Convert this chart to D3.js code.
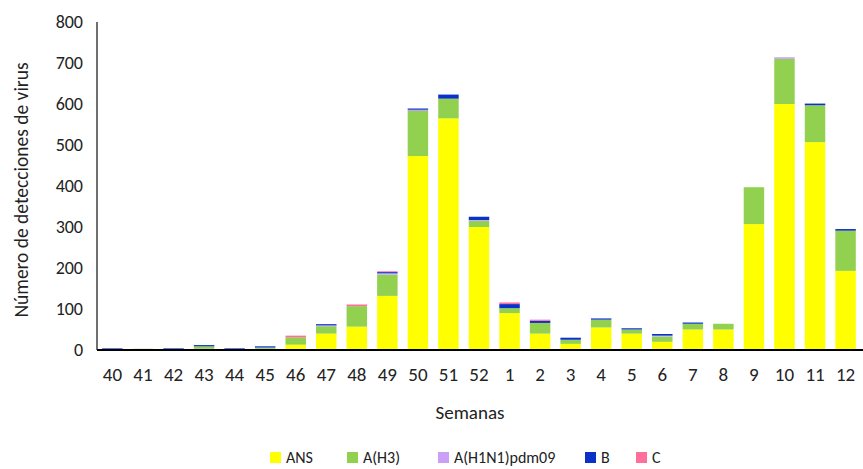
<!DOCTYPE html>
<html><head><meta charset="utf-8">
<script src="https://cdn.jsdelivr.net/npm/d3@7"></script>
<style>body{margin:0;background:#fff;font-family:Calibri,Carlito,Lato,sans-serif}</style>
</head><body><svg id="c" width="863" height="469"></svg>
<script>
const weeks = ["40","41","42","43","44","45","46","47","48","49","50","51","52","1","2","3","4","5","6","7","8","9","10","11","12"];
const ans  = [0,0,0,3,0,3,13,40,57,132,473,565,300,90,40,15,55,40,20,50,50,307,600,507,193];
const h3   = [0,3,0,6,0,3,18,18,50,52,110,48,15,12,26,10,19,10,13,14,14,90,110,90,98];
const h1n1 = [0,0,0,0,0,0,0,2,0,3,3,0,2,0,0,0,0,0,2,0,0,0,4,0,0];
const bvir = [4,0,4,3,4,3,0,3,0,3,3,10,8,10,5,5,3,3,4,3,0,0,0,4,4];
const cvir = [0,0,0,0,0,0,4,0,4,2,0,0,0,4,3,0,0,0,0,0,0,0,0,0,0];
const seriesNames = ["ANS","A(H3)","A(H1N1)pdm09","B","C"];
const colors = ["#ffff00","#92d050","#c9a0f5","#0a32c8","#ff6f9c"];
const yTicks = [0,100,200,300,400,500,600,700,800];

const svg = d3.select("#c");
const m = {l:97, r:2, t:22, b:119};
const W = 863, H = 469;
const x = d3.scaleBand().domain(weeks).range([m.l, W - m.r]).paddingInner(0.33).paddingOuter(0.17);
const y = d3.scaleLinear().domain([0, 800]).range([H - m.b, m.t]);

const rows = weeks.map((w, i) => ({w, s0: ans[i], s1: h3[i], s2: h1n1[i], s3: bvir[i], s4: cvir[i]}));
const stack = d3.stack().keys(["s0","s1","s2","s3","s4"])(rows);

svg.selectAll("g.layer").data(stack).join("g").attr("fill", (d, i) => colors[i])
  .selectAll("rect").data(d => d).join("rect")
  .attr("x", d => x(d.data.w)).attr("width", x.bandwidth())
  .attr("y", d => y(d[1])).attr("height", d => y(d[0]) - y(d[1]));

// axes
svg.append("line").attr("x1", m.l).attr("x2", m.l).attr("y1", y(800)).attr("y2", y(0)).attr("stroke", "#404040").attr("stroke-width", 1.5);
svg.append("line").attr("x1", m.l).attr("x2", W).attr("y1", y(0)).attr("y2", y(0)).attr("stroke", "#000").attr("stroke-width", 2);
svg.selectAll("text.yt").data(yTicks).join("text")
  .attr("x", m.l - 14).attr("y", d => y(d) + 6).attr("text-anchor", "end")
  .attr("font-size", 18).attr("fill", "#222").text(d => d);
svg.selectAll("text.xt").data(weeks).join("text")
  .attr("x", d => x(d) + x.bandwidth() / 2).attr("y", y(0) + 31).attr("text-anchor", "middle")
  .attr("font-size", 19).attr("fill", "#222").text(d => d);
svg.append("text").attr("x", (m.l + W) / 2 - 10).attr("y", 419).attr("text-anchor", "middle")
  .attr("font-size", 19).attr("fill", "#222").text("Semanas");
svg.append("text").attr("transform", `translate(28,${(y(0) + y(800)) / 2 + 4}) rotate(-90)`)
  .attr("text-anchor", "middle").attr("font-size", 19.5).attr("fill", "#222").text("Número de detecciones de virus");

// legend
const legX = [270, 347, 438, 585, 636];
const leg = svg.selectAll("g.leg").data(seriesNames).join("g").attr("transform", (d, i) => `translate(${legX[i]},452)`);
leg.append("rect").attr("width", 11).attr("height", 11).attr("fill", (d, i) => colors[i]);
leg.append("text").attr("x", 16).attr("y", 11).attr("font-size", 16).attr("fill", "#222").text(d => d);
</script></body></html>
